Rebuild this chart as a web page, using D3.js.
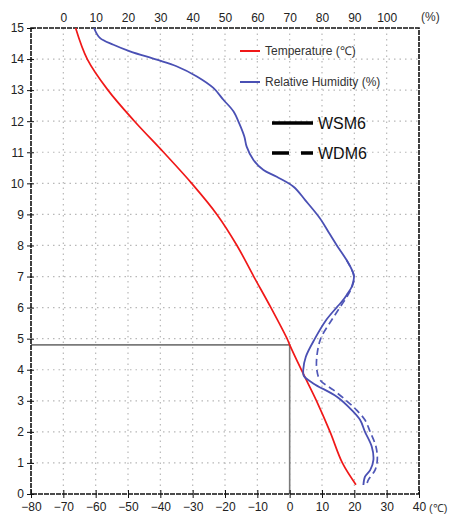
<!DOCTYPE html>
<html>
<head>
<meta charset="utf-8">
<script src="https://cdn.jsdelivr.net/npm/d3@7"></script>
<style>
  body { margin: 0; background: #fff; }
  svg text { font-family: "Liberation Sans", Arial, sans-serif; }
</style>
</head>
<body>
<div id="chart"></div>
<script>
// temperature profile (km, degC)
var tempHeight = [15, 14, 13, 12, 11, 10, 9, 8, 7, 6, 5, 4.8, 4, 3, 2, 1, 0.3];
var tempValue = [-66.2, -62.6, -56.2, -48, -39, -30.3, -22.5, -16.3, -11.1, -5.8, -0.8, 0, 3.6, 8.3, 12.5, 16.3, 20.5];

// relative humidity, WSM6 (solid)
var rhHeightWSM6 = [15, 14.68, 14.46, 14.25, 13.98, 13.77, 13.44, 13.07, 12.69, 12.32, 11.93, 11.5, 11.18, 10.75, 10.43, 10.21, 9.89, 9.46, 8.87, 8.4, 8, 7.53, 7.2, 7, 6.67, 6.4, 6.2, 6, 5.6, 5, 4.42, 4, 3.8, 3.56, 3.13, 2.7, 2.38, 2, 1.52, 1.1, 0.77, 0.56, 0.29];
var rhWSM6 = [9.5, 11.3, 15.5, 20.6, 28.9, 35, 41.3, 46.4, 49.5, 52.6, 54.4, 56, 56.7, 58.8, 61.9, 66, 71.2, 74.8, 79.4, 82.2, 84.6, 87.6, 89.3, 89.9, 89.2, 87.6, 86.2, 84.5, 81.3, 77.8, 75, 74.2, 74.4, 77.3, 84.6, 89.2, 91.8, 93.3, 95.4, 95.9, 94.9, 93.3, 92.8];

// relative humidity, WDM6 (dashed) - same as WSM6 above ~6.5 km
var rhHeightWDM6 = [7.53, 7.2, 7, 6.67, 6.4, 6.2, 6, 5.6, 5, 4.42, 4, 3.67, 3.35, 3, 2.7, 2.38, 2, 1.52, 1.1, 0.77, 0.45, 0.29];
var rhWDM6 = [87.6, 89.3, 89.9, 89.3, 88, 86.8, 85.5, 83, 79.6, 78.4, 78.4, 79.4, 83.5, 87.6, 90.7, 93.3, 94.9, 96.7, 97.1, 96.4, 94.3, 93.8];

var heightTicks = d3.range(0, 16);
var tempTicks = d3.range(-80, 41, 10);
var rhTicks = d3.range(0, 101, 10);

var width = 453, height = 519;
var plotLeft = 31, plotRight = 419, plotTop = 28, plotBottom = 494;

var svg = d3.select("#chart").append("svg")
    .attr("width", width)
    .attr("height", height);

var x = d3.scaleLinear().domain([-80, 40]).range([plotLeft, plotRight]);
// humidity axis: 0% sits at -70 degC, 100% at 30 degC
var xRh = d3.scaleLinear().domain([-70, 50]).range([x(-70), x(50)]);
var y = d3.scaleLinear().domain([0, 15]).range([plotBottom, plotTop]);

// grid
var grid = svg.append("g").attr("stroke", "#b8b8b8").attr("stroke-dasharray", "1.5,4").attr("stroke-width", 1.2);
grid.selectAll(".vg").data(tempTicks.slice(1, -1)).join("line")
    .attr("x1", d => x(d)).attr("x2", d => x(d))
    .attr("y1", plotTop).attr("y2", plotBottom);
grid.selectAll(".hg").data(heightTicks.slice(1, -1)).join("line")
    .attr("x1", plotLeft).attr("x2", plotRight)
    .attr("y1", d => y(d)).attr("y2", d => y(d));

// freezing level guide
svg.append("path")
    .attr("d", "M" + x(-80) + "," + y(4.8) + "H" + x(0) + "V" + y(0))
    .attr("fill", "none").attr("stroke", "#7a7a7a").attr("stroke-width", 1.6);

// frame
svg.append("rect")
    .attr("x", plotLeft).attr("y", plotTop)
    .attr("width", plotRight - plotLeft).attr("height", plotBottom - plotTop)
    .attr("fill", "none").attr("stroke", "#111").attr("stroke-width", 1.6)
    .attr("stroke-dasharray", "5,1");

// axes
var yAxis = svg.append("g")
    .attr("transform", "translate(" + plotLeft + ",0)")
    .call(d3.axisLeft(y).tickValues(heightTicks).tickSize(4).tickPadding(3));
yAxis.select(".domain").remove();
yAxis.selectAll(".tick line").attr("x1", -4).attr("x2", 3).attr("stroke", "#111");
yAxis.selectAll("text").attr("font-size", 12).attr("fill", "#222");

var xAxis = svg.append("g")
    .attr("transform", "translate(0," + plotBottom + ")")
    .call(d3.axisBottom(x).tickValues(tempTicks).tickSize(4).tickPadding(4));
xAxis.select(".domain").remove();
xAxis.selectAll(".tick line").attr("y1", -4).attr("y2", 4).attr("stroke", "#111");
xAxis.selectAll("text").attr("font-size", 12).attr("fill", "#222")
    .text(d => d < 0 ? "\u2212" + Math.abs(d) : d);

var topAxis = svg.append("g")
    .attr("transform", "translate(0," + (plotTop - 6) + ")")
    .call(d3.axisTop(xRh).tickValues(rhTicks.map(d => d - 70)).tickSize(0).tickPadding(0)
        .tickFormat((d, i) => rhTicks[i]));
topAxis.select(".domain").remove();
topAxis.selectAll("text").attr("font-size", 12).attr("fill", "#222");

svg.append("text").attr("x", 421).attr("y", 21).attr("font-size", 12).attr("fill", "#333").text("(%)");
svg.append("text").attr("x", 429).attr("y", 512).attr("font-size", 11).attr("fill", "#333").text("(\u2103)");

// curves
var line = d3.line().curve(d3.curveCatmullRom);

svg.append("path")
    .attr("d", line(tempHeight.map((h, i) => [x(tempValue[i]), y(h)])))
    .attr("fill", "none").attr("stroke", "#f01818").attr("stroke-width", 1.7);

svg.append("path")
    .attr("d", line(rhHeightWDM6.map((h, i) => [xRh(rhWDM6[i] - 70), y(h)])))
    .attr("fill", "none").attr("stroke", "#5058b8").attr("stroke-width", 1.7)
    .attr("stroke-dasharray", "7,4");

svg.append("path")
    .attr("d", line(rhHeightWSM6.map((h, i) => [xRh(rhWSM6[i] - 70), y(h)])))
    .attr("fill", "none").attr("stroke", "#4a50b4").attr("stroke-width", 1.8);

// legend
var legend = svg.append("g");
legend.append("line").attr("x1", 240).attr("x2", 260).attr("y1", 51).attr("y2", 51)
    .attr("stroke", "#f01818").attr("stroke-width", 2);
legend.append("text").attr("x", 265).attr("y", 55).attr("font-size", 12).attr("fill", "#333")
    .text("Temperature (\u2103)");
legend.append("line").attr("x1", 240).attr("x2", 260).attr("y1", 82).attr("y2", 82)
    .attr("stroke", "#4a50b4").attr("stroke-width", 2);
legend.append("text").attr("x", 265).attr("y", 86).attr("font-size", 12).attr("fill", "#333")
    .text("Relative Humidity (%)");

legend.append("line").attr("x1", 272).attr("x2", 313).attr("y1", 123).attr("y2", 123)
    .attr("stroke", "#000").attr("stroke-width", 3.5);
legend.append("text").attr("x", 318).attr("y", 129).attr("font-size", 16).attr("fill", "#111")
    .text("WSM6");
legend.append("line").attr("x1", 272).attr("x2", 313).attr("y1", 153).attr("y2", 153)
    .attr("stroke", "#000").attr("stroke-width", 3.5).attr("stroke-dasharray", "17,12");
legend.append("text").attr("x", 318).attr("y", 159).attr("font-size", 16).attr("fill", "#111")
    .text("WDM6");
</script>
</body>
</html>
